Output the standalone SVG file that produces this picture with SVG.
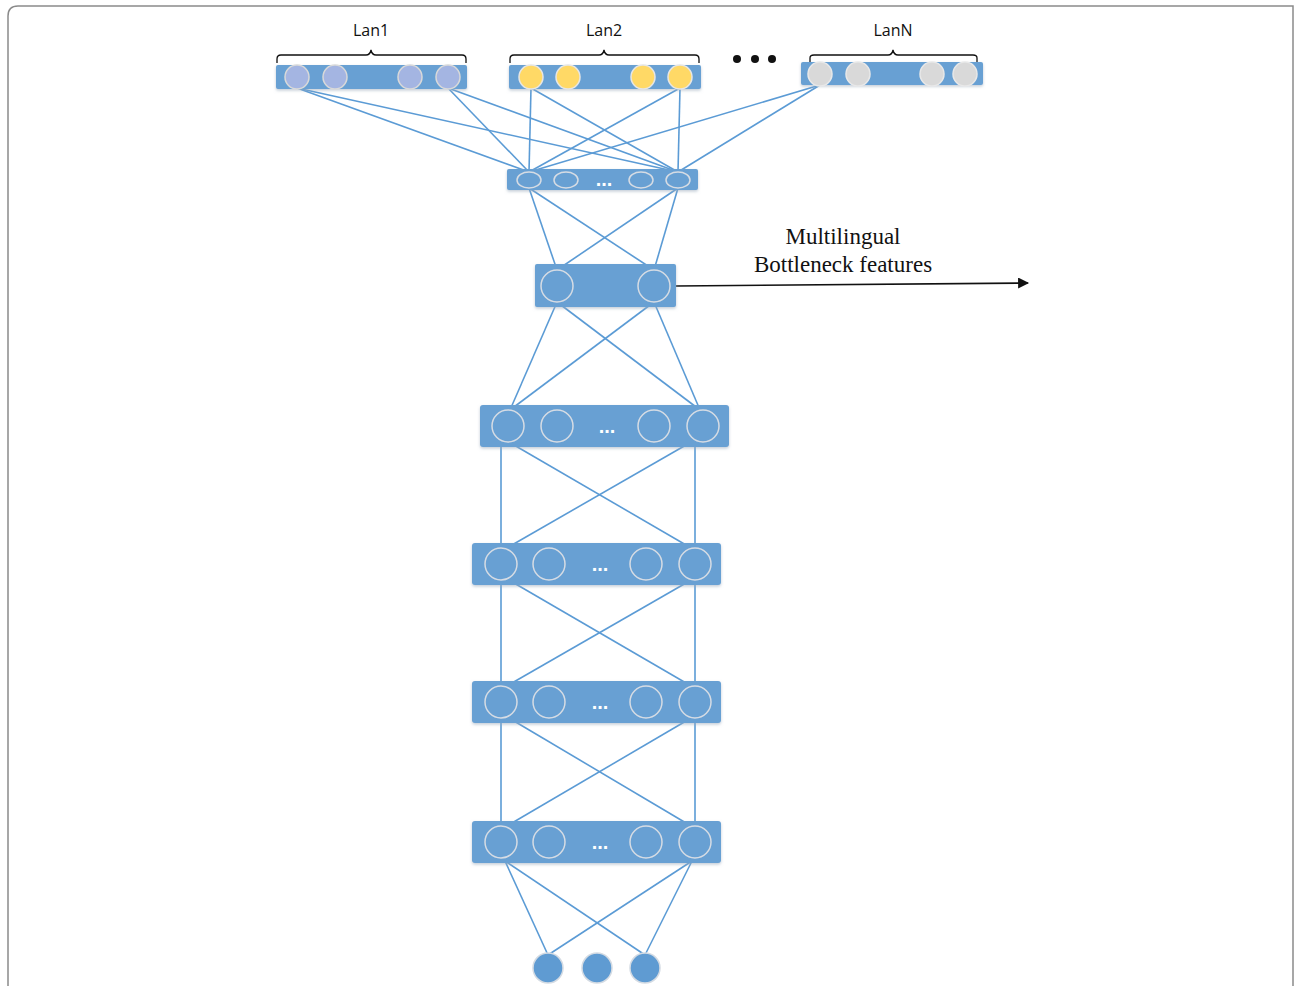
<svg xmlns="http://www.w3.org/2000/svg" width="1294" height="986" viewBox="0 0 1294 986">
  <defs>
    <filter id="soft" x="-10%" y="-30%" width="120%" height="160%">
      <feDropShadow dx="0" dy="1.5" stdDeviation="1.5" flood-color="#9aa9bb" flood-opacity="0.6"/>
    </filter>
    <marker id="arrow" viewBox="0 0 10 10" refX="9" refY="5" markerWidth="15" markerHeight="11" markerUnits="userSpaceOnUse" orient="auto">
      <path d="M0,0 L10,5 L0,10 z" fill="#111"/>
    </marker>
  </defs>
  <style>
    .bar { fill: #67a0d3; filter: url(#soft); }
    .node { fill: none; stroke: #d6dce4; stroke-width: 1.5; }
    .lan1 { fill: #a4b5e2; stroke: #d9d9d9; stroke-width: 1.5; }
    .lan2 { fill: #ffd966; stroke: #e6e6e6; stroke-width: 1.5; }
    .lanN { fill: #d9d9d9; stroke: #e8e8e8; stroke-width: 1.5; }
    .out { fill: #5f9bd2; stroke: #d4dbe3; stroke-width: 1.5; }
    .link { stroke: #5b9bd5; stroke-width: 1.6; fill: none; }
    .brace { stroke: #111; stroke-width: 1.3; fill: none; }
    .lab { font-family: "Open Sans", "Liberation Sans", sans-serif; font-size: 16px; fill: #111; text-anchor: middle; }
    .dots { font-family: "Liberation Sans", sans-serif; font-size: 20px; font-weight: bold; fill: #ffffff; text-anchor: middle; }
    .note { font-family: "Liberation Serif", serif; font-size: 23px; fill: #111; text-anchor: middle; }
  </style>

  <!-- page frame -->
  <path d="M8,1000 L8,16 Q8,6 18,6 L1293,6 L1293,1000" fill="none" stroke="#8a8a8a" stroke-width="1.5"/>

  <!-- connections between layers -->
  <g id="connectors">
    <!-- language inputs to shared layer -->
    <line class="link" x1="297" y1="88" x2="529" y2="172"/>
    <line class="link" x1="297" y1="88" x2="678" y2="172"/>
    <line class="link" x1="448" y1="88" x2="529" y2="172"/>
    <line class="link" x1="448" y1="88" x2="678" y2="172"/>
    <line class="link" x1="531" y1="88" x2="529" y2="172"/>
    <line class="link" x1="531" y1="88" x2="678" y2="172"/>
    <line class="link" x1="680" y1="88" x2="529" y2="172"/>
    <line class="link" x1="680" y1="88" x2="678" y2="172"/>
    <line class="link" x1="820" y1="85" x2="529" y2="172"/>
    <line class="link" x1="820" y1="85" x2="678" y2="172"/>
    <!-- shared layer to bottleneck -->
    <line class="link" x1="529" y1="188" x2="557" y2="270"/>
    <line class="link" x1="529" y1="188" x2="654" y2="270"/>
    <line class="link" x1="678" y1="188" x2="557" y2="270"/>
    <line class="link" x1="678" y1="188" x2="654" y2="270"/>
    <!-- bottleneck to hidden layer 4 -->
    <line class="link" x1="557" y1="302" x2="510" y2="410"/>
    <line class="link" x1="557" y1="302" x2="700" y2="410"/>
    <line class="link" x1="654" y1="302" x2="510" y2="410"/>
    <line class="link" x1="654" y1="302" x2="700" y2="410"/>
    <!-- layer 4 to layer 5 -->
    <line class="link" x1="501" y1="445" x2="501" y2="548"/>
    <line class="link" x1="695" y1="445" x2="695" y2="548"/>
    <line class="link" x1="514" y1="445" x2="686" y2="545"/>
    <line class="link" x1="686" y1="445" x2="512" y2="545"/>
    <!-- layer 5 to layer 6 -->
    <line class="link" x1="501" y1="583" x2="501" y2="686"/>
    <line class="link" x1="695" y1="583" x2="695" y2="686"/>
    <line class="link" x1="514" y1="583" x2="686" y2="683"/>
    <line class="link" x1="686" y1="583" x2="512" y2="683"/>
    <!-- layer 6 to layer 7 -->
    <line class="link" x1="501" y1="721" x2="501" y2="826"/>
    <line class="link" x1="695" y1="721" x2="695" y2="826"/>
    <line class="link" x1="514" y1="721" x2="686" y2="823"/>
    <line class="link" x1="686" y1="721" x2="512" y2="823"/>
    <!-- layer 7 to outputs -->
    <line class="link" x1="505" y1="861" x2="548" y2="955"/>
    <line class="link" x1="505" y1="861" x2="645" y2="955"/>
    <line class="link" x1="692" y1="861" x2="548" y2="955"/>
    <line class="link" x1="692" y1="861" x2="645" y2="955"/>
    <!-- bottleneck feature output -->
    <line x1="676" y1="286" x2="1028" y2="283" stroke="#111" stroke-width="1.6" marker-end="url(#arrow)"/>
  </g>

  <!-- language 1 input layer -->
  <g id="lan1">
    <path class="brace" d="M277,63 L277,59 Q277,55 281,55 L366,55 Q370,55 371,50 Q372,55 376,55 L462,55 Q466,55 466,59 L466,63"/>
    <text class="lab" x="371" y="36">Lan1</text>
    <rect class="bar" x="276" y="65" width="191" height="24" rx="2"/>
    <circle class="lan1" cx="297" cy="77" r="12"/>
    <circle class="lan1" cx="335" cy="77" r="12"/>
    <circle class="lan1" cx="410" cy="77" r="12"/>
    <circle class="lan1" cx="448" cy="77" r="12"/>
  </g>

  <!-- language 2 input layer -->
  <g id="lan2">
    <path class="brace" d="M510,63 L510,59 Q510,55 514,55 L599,55 Q603,55 604,50 Q605,55 609,55 L695,55 Q699,55 699,59 L699,63"/>
    <text class="lab" x="604" y="36">Lan2</text>
    <rect class="bar" x="509" y="65" width="192" height="24" rx="2"/>
    <circle class="lan2" cx="531" cy="77" r="12"/>
    <circle class="lan2" cx="568" cy="77" r="12"/>
    <circle class="lan2" cx="643" cy="77" r="12"/>
    <circle class="lan2" cx="680" cy="77" r="12"/>
  </g>

  <!-- ellipsis between languages -->
  <g id="more-languages" fill="#111">
    <circle cx="737" cy="59" r="4"/>
    <circle cx="755" cy="59" r="4"/>
    <circle cx="772" cy="59" r="4"/>
  </g>

  <!-- language N input layer -->
  <g id="lanN">
    <path class="brace" d="M810,62 L810,58 Q810,55 814,55 L888,55 Q892,55 893,50 Q894,55 898,55 L973,55 Q977,55 977,58 L977,62"/>
    <text class="lab" x="893" y="36">LanN</text>
    <rect class="bar" x="801" y="62" width="182" height="23" rx="2"/>
    <circle class="lanN" cx="820" cy="74" r="12"/>
    <circle class="lanN" cx="858" cy="74" r="12"/>
    <circle class="lanN" cx="932" cy="74" r="12"/>
    <circle class="lanN" cx="965" cy="74" r="12"/>
  </g>

  <!-- shared layer -->
  <g id="shared">
    <rect class="bar" x="507" y="169" width="191" height="21" rx="2"/>
    <ellipse class="node" cx="529" cy="180" rx="12" ry="8"/>
    <ellipse class="node" cx="566" cy="180" rx="12" ry="8"/>
    <ellipse class="node" cx="641" cy="180" rx="12" ry="8"/>
    <ellipse class="node" cx="678" cy="180" rx="12" ry="8"/>
    <text class="dots" x="604" y="186">...</text>
  </g>

  <!-- bottleneck layer -->
  <g id="bottleneck">
    <rect class="bar" x="535" y="264" width="141" height="43" rx="2"/>
    <circle class="node" cx="557" cy="286" r="16"/>
    <circle class="node" cx="654" cy="286" r="16"/>
  </g>

  <!-- annotation -->
  <g id="bnf-label">
    <text class="note" x="843" y="244">Multilingual</text>
    <text class="note" x="843" y="272">Bottleneck features</text>
  </g>

  <!-- hidden layer 4 -->
  <g id="hidden4">
    <rect class="bar" x="480" y="405" width="249" height="42" rx="3"/>
    <circle class="node" cx="508" cy="426" r="16"/>
    <circle class="node" cx="557" cy="426" r="16"/>
    <circle class="node" cx="654" cy="426" r="16"/>
    <circle class="node" cx="703" cy="426" r="16"/>
    <text class="dots" x="607" y="433">...</text>
  </g>

  <!-- hidden layer 5 -->
  <g id="hidden5">
    <rect class="bar" x="472" y="543" width="249" height="42" rx="3"/>
    <circle class="node" cx="501" cy="564" r="16"/>
    <circle class="node" cx="549" cy="564" r="16"/>
    <circle class="node" cx="646" cy="564" r="16"/>
    <circle class="node" cx="695" cy="564" r="16"/>
    <text class="dots" x="600" y="571">...</text>
  </g>

  <!-- hidden layer 6 -->
  <g id="hidden6">
    <rect class="bar" x="472" y="681" width="249" height="42" rx="3"/>
    <circle class="node" cx="501" cy="702" r="16"/>
    <circle class="node" cx="549" cy="702" r="16"/>
    <circle class="node" cx="646" cy="702" r="16"/>
    <circle class="node" cx="695" cy="702" r="16"/>
    <text class="dots" x="600" y="709">...</text>
  </g>

  <!-- hidden layer 7 -->
  <g id="hidden7">
    <rect class="bar" x="472" y="821" width="249" height="42" rx="3"/>
    <circle class="node" cx="501" cy="842" r="16"/>
    <circle class="node" cx="549" cy="842" r="16"/>
    <circle class="node" cx="646" cy="842" r="16"/>
    <circle class="node" cx="695" cy="842" r="16"/>
    <text class="dots" x="600" y="849">...</text>
  </g>

  <!-- input feature nodes -->
  <g id="inputs">
    <circle class="out" cx="548" cy="968" r="15"/>
    <circle class="out" cx="597" cy="968" r="15"/>
    <circle class="out" cx="645" cy="968" r="15"/>
  </g>
</svg>
